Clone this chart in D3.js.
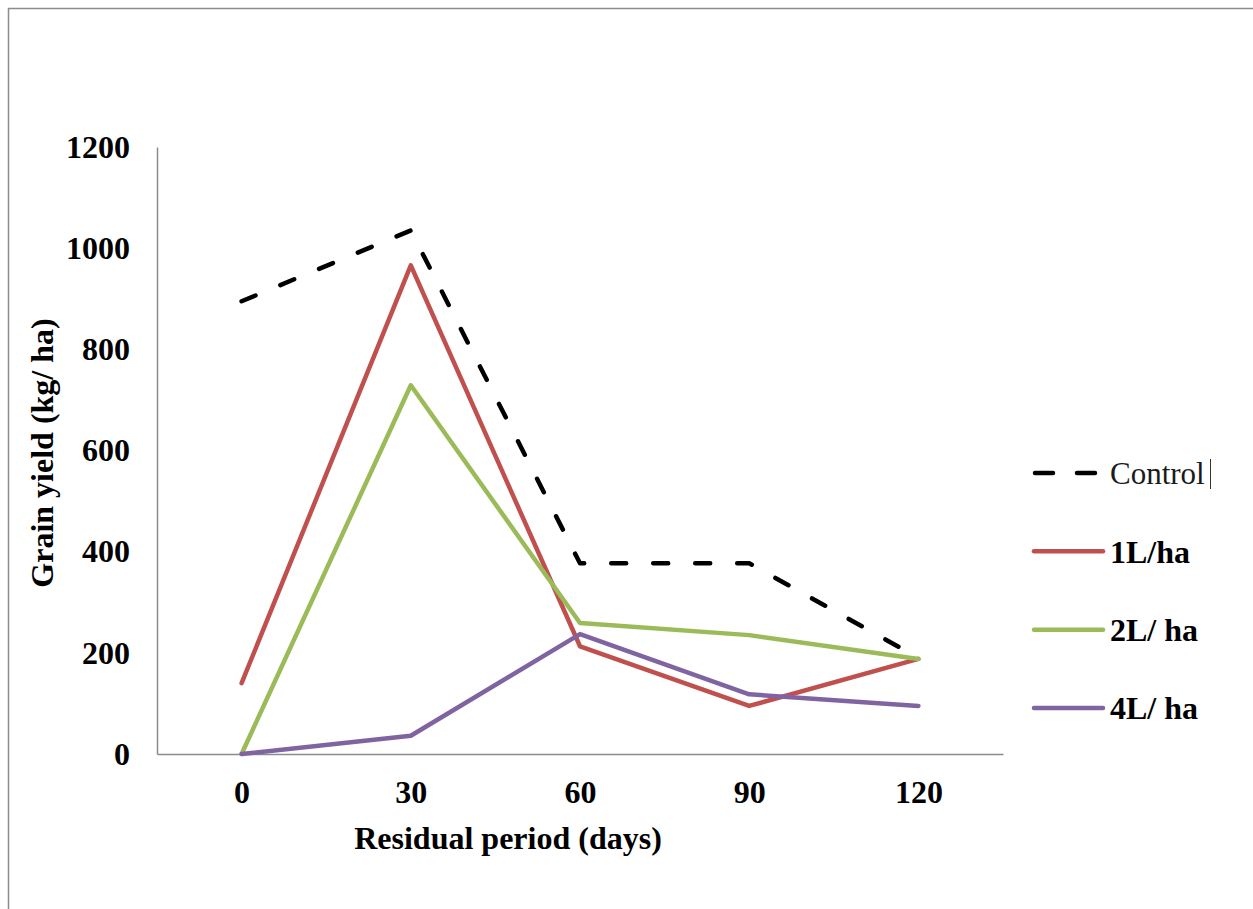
<!DOCTYPE html>
<html>
<head>
<meta charset="utf-8">
<script src="https://cdn.jsdelivr.net/npm/d3@7"></script>
<style>
  body { margin: 0; background: #fff; }
  svg { display: block; }
</style>
</head>
<body>
<script>
// data
const days = ["0", "30", "60", "90", "120"];
const yTicks = [0, 200, 400, 600, 800, 1000, 1200];
const seriesNames = ["Control", "1L/ha", "2L/ ha", "4L/ ha"];
const control = [895, 1035, 377, 377, 190];
const oneL = [140, 966, 213, 95, 188];
const twoL = [0, 729, 259, 235, 188];
const fourL = [0, 36, 237, 118, 95];

const series = [
  {name: seriesNames[0], values: control, color: "#000000", dash: "15,27", bold: false},
  {name: seriesNames[1], values: oneL, color: "#C0504D", dash: null, bold: true},
  {name: seriesNames[2], values: twoL, color: "#9BBB59", dash: null, bold: true},
  {name: seriesNames[3], values: fourL, color: "#8064A2", dash: null, bold: true}
];

const W = 1253, H = 909;
const plotLeft = 157, plotRight = 1003, plotTop = 147, plotBottom = 754;
const font = "'Liberation Serif', 'Times New Roman', serif";

const svg = d3.select("body").append("svg")
    .attr("width", W)
    .attr("height", H);

// frame
svg.append("rect")
    .attr("x", 8.5).attr("y", 8.5)
    .attr("width", W + 10).attr("height", H + 10)
    .attr("fill", "none")
    .attr("stroke", "#8c8c8c")
    .attr("stroke-width", 1.5);

let x = d3.scalePoint()
    .domain(days)
    .range([plotLeft, plotRight])
    .padding(0.5);

let y = d3.scaleLinear()
    .domain([0, 1200])
    .range([plotBottom, plotTop]);

// y axis
let gy = svg.append("g")
    .attr("transform", "translate(" + plotLeft + ",0)")
    .call(d3.axisLeft(y).tickValues(yTicks).tickSize(0).tickPadding(27).tickFormat(d3.format("d")));
gy.select(".domain").attr("stroke", "#8c8c8c").attr("stroke-width", 1.5);
gy.selectAll("text")
    .attr("font-family", font)
    .attr("font-weight", "bold")
    .attr("font-size", 32)
    .attr("fill", "#000");

// x axis
let gx = svg.append("g")
    .attr("transform", "translate(0," + plotBottom + ")")
    .call(d3.axisBottom(x).tickSize(0).tickPadding(26));
gx.select(".domain").attr("stroke", "#8c8c8c").attr("stroke-width", 1.5);
gx.selectAll("text")
    .attr("font-family", font)
    .attr("font-weight", "bold")
    .attr("font-size", 32)
    .attr("fill", "#000");

// axis titles
svg.append("text")
    .attr("x", 508).attr("y", 849)
    .attr("text-anchor", "middle")
    .attr("font-family", font)
    .attr("font-weight", "bold")
    .attr("font-size", 32)
    .text("Residual period (days)");

svg.append("text")
    .attr("transform", "translate(53,453) rotate(-90)")
    .attr("text-anchor", "middle")
    .attr("font-family", font)
    .attr("font-weight", "bold")
    .attr("font-size", 32)
    .text("Grain yield (kg/ ha)");

// lines
let line = d3.line()
    .x((d, i) => x(days[i]))
    .y(d => y(d));

svg.selectAll(".series")
    .data(series)
    .join("path")
    .attr("class", "series")
    .attr("d", d => line(d.values))
    .attr("fill", "none")
    .attr("stroke", d => d.color)
    .attr("stroke-width", 4.5)
    .attr("stroke-linecap", "round")
    .attr("stroke-linejoin", "round")
    .attr("stroke-dasharray", d => d.dash);

// legend
let legend = svg.append("g");
let ly = d3.scalePoint().domain(seriesNames).range([473, 708]);
let item = legend.selectAll("g")
    .data(series)
    .join("g")
    .attr("transform", d => "translate(0," + ly(d.name) + ")");
item.append("line")
    .attr("x1", d => d.dash ? 1035 : 1034)
    .attr("x2", d => d.dash ? 1098 : 1103)
    .attr("stroke", d => d.color)
    .attr("stroke-width", 4.5)
    .attr("stroke-linecap", "round")
    .attr("stroke-dasharray", d => d.dash ? "18,24" : null);
item.append("text")
    .attr("x", 1110)
    .attr("dy", "0.35em")
    .attr("font-family", font)
    .attr("font-weight", d => d.bold ? "bold" : "normal")
    .attr("font-size", d => d.bold ? 32 : 31)
    .attr("fill", d => d.bold ? "#000" : "#1a1a1a")
    .text(d => d.name);
// text cursor after "Control"
legend.append("line")
    .attr("x1", 1210.5).attr("x2", 1210.5)
    .attr("y1", 459).attr("y2", 489)
    .attr("stroke", "#333").attr("stroke-width", 1);
</script>
</body>
</html>
